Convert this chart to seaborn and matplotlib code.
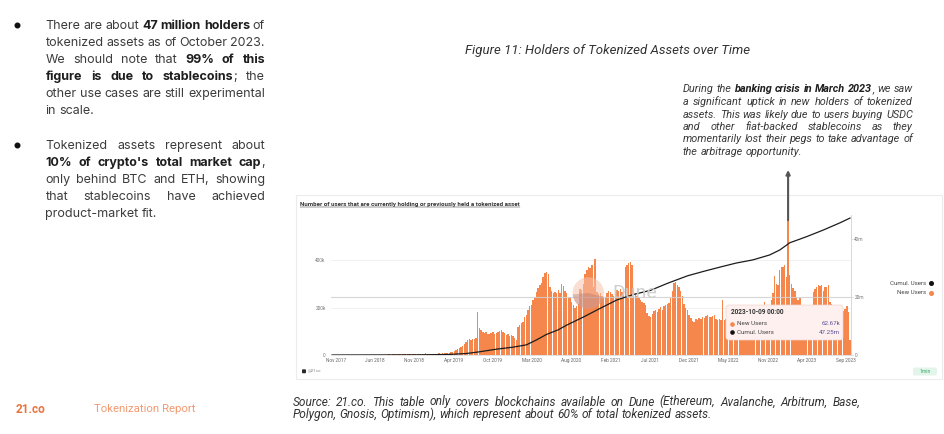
import matplotlib
matplotlib.use("Agg")
import matplotlib.pyplot as plt
import matplotlib.ticker as mticker
from matplotlib.patches import Rectangle, Circle, Wedge, FancyBboxPatch
from matplotlib.lines import Line2D
from matplotlib.transforms import IdentityTransform
import numpy as np
import pandas as pd
import seaborn as sns

W, H = 945, 434

# weekly new holders (thousands); first bar is the week of 2017-11-06, last 2023-10-09
new_users_k = [
    0.2, 0.3, 0.3, 0.4, 0.3, 0.5, 0.4, 0.5, 0.6, 0.5,
    0.6, 0.7, 0.6, 0.8, 0.7, 0.9, 0.8, 1.0, 0.9, 1.1,
    1.0, 1.2, 1.1, 1.3, 1.2, 1.4, 1.5, 1.3, 1.6, 1.5,
    1.8, 1.7, 2.0, 1.9, 2.2, 2.1, 2.4, 2.3, 2.6, 2.5,
    2.8, 3.0, 2.9, 3.2, 3.5, 3.3, 3.8, 4.0, 3.7, 4.2,
    4.5, 4.3, 4.8, 5.0, 4.6, 5.2, 7.5, 5.0, 4.8, 5.3,
    5.6, 5.2, 5.8, 6.0, 6.5, 6.2, 7.0, 7.5, 8.0, 8.5,
    10, 12, 14, 17, 21, 26, 30, 34, 40, 47,
    55, 62, 66, 64, 68, 66, 70, 181, 113, 105,
    98, 92, 95, 90, 88, 93, 97, 90, 92, 96,
    100, 105, 95, 92, 85, 88, 80, 84, 78, 70,
    63, 119, 125, 134, 140, 160, 168, 190, 205, 210,
    230, 245, 265, 281, 295, 302, 330, 345, 351, 340,
    288, 270, 262, 265, 260, 274, 262, 298, 290, 268,
    260, 240, 245, 224, 210, 200, 205, 215, 280, 274,
    300, 340, 360, 372, 365, 379, 288, 404, 265, 255,
    260, 250, 245, 245, 260, 270, 265, 255, 250, 262,
    274, 270, 276, 265, 268, 372, 378, 386, 392, 380,
    275, 261, 250, 240, 230, 222, 219, 210, 177, 165,
    160, 172, 185, 190, 180, 195, 203, 190, 205, 210,
    215, 219, 240, 270, 302, 309, 295, 288, 270, 250,
    215, 200, 190, 168, 155, 145, 140, 150, 147, 156,
    152, 160, 156, 165, 168, 160, 158, 165, 168, 150,
    147, 150, 147, 231, 147, 150, 145, 150, 155, 148,
    152, 158, 160, 155, 162, 165, 158, 160, 168, 170,
    165, 172, 175, 168, 178, 180, 176, 185, 224, 200,
    200, 190, 230, 260, 333, 300, 295, 358, 372, 372,
    379, 330, 568, 337, 300, 281, 270, 245, 231, 240,
    210, 180, 170, 160, 165, 175, 190, 267, 280, 288,
    295, 290, 295, 270, 285, 288, 295, 224, 215, 190,
    180, 170, 165, 160, 175, 185, 195, 206, 182, 62.67,
]

# cumulative holders (millions)
cum_dates = [
    "2017-11-06", "2018-11-05", "2019-03-11", "2019-05-20", "2019-07-15",
    "2019-09-23", "2019-12-02", "2020-01-27", "2020-03-09", "2020-04-20",
    "2020-06-08", "2020-07-13", "2020-09-21", "2020-11-30", "2021-02-08",
    "2021-04-19", "2021-06-28", "2021-09-06", "2021-11-29", "2022-02-07",
    "2022-04-18", "2022-06-20", "2022-08-29", "2022-11-07", "2022-12-19",
    "2023-01-30", "2023-04-10", "2023-06-19", "2023-08-28", "2023-10-09",
]
cum_users_m = [
    0.0, 0.05, 0.2, 0.5, 1.1, 2.0, 2.7, 3.5, 5.2, 7.1,
    8.7, 10.3, 13.1, 16.1, 19.0, 20.9, 22.3, 24.7, 27.3, 28.9,
    30.4, 31.7, 32.8, 34.5, 36.2, 38.7, 40.8, 43.1, 45.6, 47.25,
]

x_labels = ["Nov 2017", "Jun 2018", "Nov 2018", "Apr 2019", "Oct 2019", "Mar 2020",
            "Aug 2020", "Feb 2021", "Jul 2021", "Dec 2021", "May 2022", "Nov 2022",
            "Apr 2023", "Sep 2023"]
left_ticks_k = [0, 200, 400]
right_ticks_m = [0, 20, 40]

bullet_1 = [
    ("There are about *47 million holders* of", True),
    ("tokenized assets as of October 2023.", True),
    ("We should note that *99% of this*", True),
    ("*figure is due to stablecoins*; the", True),
    ("other use cases are still experimental", True),
    ("in scale.", False),
]
bullet_2 = [
    ("Tokenized assets represent about", True),
    ("*10% of crypto's total market cap*,", True),
    ("only behind BTC and ETH, showing", True),
    ("that stablecoins have achieved", True),
    ("product-market fit.", False),
]
note = [
    ("During the *banking crisis in March 2023*, we saw", True),
    ("a significant uptick in new holders of tokenized", True),
    ("assets. This was likely due to users buying USDC", True),
    ("and other fiat-backed stablecoins as they", True),
    ("momentarily lost their pegs to take advantage of", True),
    ("the arbitrage opportunity.", False),
]
source = [
    ("Source: 21.co. This table only covers blockchains available on Dune (Ethereum, Avalanche, Arbitrum, Base,", True),
    ("Polygon, Gnosis, Optimism), which represent about 60% of total tokenized assets.", False),
]

ORANGE = "#f5874d"
TXT = "#3c3c3c"

sns.set_theme(style="white")
plt.rcParams["font.family"] = ["Roboto", "DejaVu Sans"]

fig = plt.figure(figsize=(W / 100, H / 100), dpi=100)
fig.patch.set_facecolor("white")


def fx(x):
    return x / W


def fy(y):
    return 1 - y / H


def words_of(line):
    words, cur, piece, bold = [], [], "", False
    for ch in line + " ":
        if ch in "* ":
            if piece:
                cur.append((piece, bold))
                piece = ""
            if ch == "*":
                bold = not bold
            elif cur:
                words.append(cur)
                cur = []
        else:
            piece += ch
    return words


def paragraph(lines, x0, x1, base, step, size, color, bold_color=None, style="normal",
              family=("Roboto", "DejaVu Sans")):
    r = fig.canvas.get_renderer()
    space = 0.26 * size * 100 / 72
    for k, (line, just) in enumerate(lines):
        y = fy(base + k * step)
        items, total = [], 0
        for w in words_of(line):
            arts, wsum = [], 0
            for txt, b in w:
                t = fig.text(0, y, txt, va="baseline", ha="left", fontsize=size, family=list(family),
                             style=style, fontweight="bold" if b else "normal",
                             color=(bold_color or color) if b else color)
                wd = t.get_window_extent(renderer=r).width
                arts.append((t, wd))
                wsum += wd
            items.append((arts, wsum))
            total += wsum
        gap = (x1 - x0 - total) / (len(items) - 1) if just and len(items) > 1 else space
        x = x0
        for arts, wsum in items:
            for t, wd in arts:
                t.set_x(fx(x))
                x += wd
            x += gap


# ---- left text column
for yb in (25, 144.5):
    fig.add_artist(Line2D([fx(17.3)], [fy(yb)], marker="o", ms=3.3, color="#111", transform=fig.transFigure))
inter = ("Inter", "DejaVu Sans")
paragraph(bullet_1, 45.5, 265, 28.7, 17.1, 9, TXT, "#1e1e1e", family=inter)
paragraph(bullet_2, 45.5, 265, 148.7, 17.1, 9, TXT, "#1e1e1e", family=inter)

# ---- caption and annotation
fig.text(fx(607.5), fy(54), "Figure 11: Holders of Tokenized Assets over Time", ha="center",
         va="baseline", fontsize=9.5, style="italic", color="#333")
paragraph(note, 683, 913, 92.5, 12.5, 7.8, "#3a3a3a", "#1e1e1e", style="italic")

# ---- chart panel
fig.add_artist(Rectangle((fx(296), fy(379)), (942 - 296) / W, (379 - 195) / H, transform=fig.transFigure,
                         facecolor="white", edgecolor="#ececec", lw=0.8, zorder=-5))
r = fig.canvas.get_renderer()
title = fig.text(fx(300), fy(206), "Number of users that are currently holding or previously held a tokenized asset",
                 fontsize=4.4, fontweight="bold", color="#333", va="baseline")
tw = title.get_window_extent(renderer=r).width
fig.add_artist(Line2D([fx(300), fx(300 + tw)], [fy(207.3), fy(207.3)], color="#333", lw=0.35,
                      transform=fig.transFigure))

ax = fig.add_axes([fx(331), fy(355), 520 / W, 140 / H])
ax.set_facecolor("none")

weeks = pd.date_range("2017-11-06", periods=len(new_users_k), freq="7D")
bars = pd.DataFrame({"week": np.arange(len(weeks)), "new": np.array(new_users_k) * 1e3})
sns.barplot(data=bars, x="week", y="new", native_scale=True, color=ORANGE, saturation=1,
            width=0.84, errorbar=None, linewidth=0, ax=ax)

cum_idx = np.asarray((pd.to_datetime(cum_dates) - weeks[0]).days / 7.0)
ax2 = ax.twinx()
sns.lineplot(x=cum_idx, y=np.array(cum_users_m) * 1e6, ax=ax2, color="#1c1c1c", lw=0.9)

ax.set_xlim(-0.5, len(weeks) - 0.5)
ax.set_ylim(0, 589.5e3)
ax2.set_ylim(0, 48.28e6)

ax.set_xticks(np.linspace(2.4, 306.6, len(x_labels)))
ax.set_xticklabels(x_labels)
ax.set_yticks(np.array(left_ticks_k) * 1e3)
ax.yaxis.set_major_formatter(mticker.FuncFormatter(lambda v, p: "0" if v == 0 else f"{v / 1e3:.0f}k"))
ax2.set_yticks(np.array(right_ticks_m) * 1e6)
ax2.yaxis.set_major_formatter(mticker.FuncFormatter(lambda v, p: "0" if v == 0 else f"{v / 1e6:.0f}m"))
ax.tick_params(axis="x", length=0, pad=2.5, labelsize=3.4, labelcolor="#666")
ax.tick_params(axis="y", length=0, pad=3.8, labelsize=3.4, labelcolor="#777")
ax2.tick_params(axis="y", length=1.2, width=0.4, color="#ccc", pad=1.2, labelsize=3.4, labelcolor="#777")
for a in (ax, ax2):
    a.set_xlabel("")
    a.set_ylabel("")
    for s in a.spines.values():
        s.set_visible(False)
ax.spines["bottom"].set_visible(True)
ax.spines["bottom"].set_color("#dcdcdc")
ax.spines["bottom"].set_linewidth(0.6)
ax2.spines["right"].set_visible(True)
ax2.spines["right"].set_color("#d2d2d2")
ax2.spines["right"].set_linewidth(0.6)
ax.yaxis.grid(True, color="#efefef", lw=0.6)
ax.set_axisbelow(True)
ax2.axhline(right_ticks_m[1] * 1e6, color="#cfcfcf", lw=0.8, alpha=0.85, zorder=1)

# arrow from the March 2023 spike up to the note
spike = int(np.argmax(new_users_k))
ax.annotate("", xy=(spike, H - 170), xycoords=("data", "figure pixels"),
            xytext=(spike, new_users_k[spike] * 1e3), textcoords="data", annotation_clip=False,
            arrowprops=dict(arrowstyle="-|>", color="#555", lw=1.5, shrinkA=0, shrinkB=0, mutation_scale=6))

# Dune watermark
idt = IdentityTransform()
fig.add_artist(Circle((588.3, H - 293), 15.7, transform=idt, facecolor="#f8c3ae", alpha=0.55, lw=0, zorder=5))
fig.add_artist(Wedge((588.3, H - 293), 15.7, 185, 345, transform=idt, facecolor="#a86f6a", alpha=0.35, lw=0, zorder=5))
fig.text(fx(612), fy(293), "Dune", fontsize=14, color="#cdcdcd", alpha=0.95, va="center", zorder=5)

# legend
for label, col, yy in (("Cumul. Users", "#111", 283.3), ("New Users", ORANGE, 292.7)):
    fig.text(fx(926), fy(yy), label, ha="right", va="center", fontsize=4.4, color="#444")
    fig.add_artist(Line2D([fx(930.7)], [fy(yy)], marker="o", ms=2.6, color=col, transform=fig.transFigure))

# tooltip for the last week
fig.add_artist(FancyBboxPatch((726, H - 340), 117, 35, boxstyle="round,pad=0,rounding_size=3", transform=idt,
                              facecolor="#fdf0ee", edgecolor="#f2d6d0", lw=0.5, zorder=6))
fig.text(fx(731), fy(312), weeks[-1].strftime("%Y-%m-%d 00:00"), fontsize=4.7, fontweight="bold",
         color="#333", va="center", zorder=7)
for label, col, val, yy in (("New Users", ORANGE, f"{new_users_k[-1]:.2f}k", 323.7),
                            ("Cumul. Users", "#111", f"{cum_users_m[-1]:.2f}m", 332.3)):
    fig.add_artist(Line2D([fx(732.5)], [fy(yy)], marker="o", ms=2.3, color=col, transform=fig.transFigure, zorder=7))
    fig.text(fx(737), fy(yy), label, fontsize=4.5, color="#444", va="center", zorder=7)
    fig.text(fx(840.5), fy(yy), val, fontsize=4.5, color="#5b4f9c", va="center", ha="right", zorder=7)

# panel footer bits
fig.add_artist(FancyBboxPatch((302, H - 373.3), 4, 4, boxstyle="round,pad=0,rounding_size=1", transform=idt,
                              facecolor="#2a2a2a", lw=0))
fig.text(fx(308), fy(371.3), "@21co", fontsize=3.2, color="#8a8a8a", va="center")
fig.add_artist(FancyBboxPatch((913, H - 375.5), 24, 8, boxstyle="round,pad=0,rounding_size=2", transform=idt,
                              facecolor="#e3f5ea", lw=0))
fig.text(fx(925), fy(371.6), "1min", fontsize=3.6, color="#3aa96a", va="center", ha="center")

# ---- page footer
fig.text(fx(16), fy(413), "21.co", fontsize=8.5, fontweight="bold", color="#e8733d", va="baseline")
fig.text(fx(94), fy(412.5), "Tokenization Report", fontsize=8.2, color="#f09a72", va="baseline")
paragraph(source, 292.5, 860, 405.5, 12.6, 8.6, "#333", style="italic")

fig.savefig("out.png", dpi=100, facecolor="white")
